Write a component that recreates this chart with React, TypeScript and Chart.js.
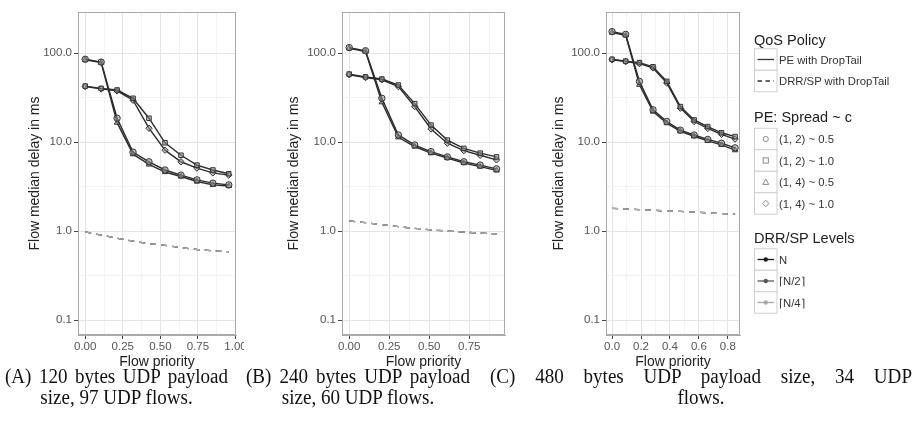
import React, { useEffect, useRef } from "react";
import { Chart, registerables } from "chart.js";
Chart.register(...registerables);

// ---------- data ----------
const xA = [0, 0.106, 0.212, 0.318, 0.424, 0.531, 0.637, 0.743, 0.849, 0.955];
const circleA = [85, 79, 18.5, 7.7, 6.0, 4.85, 4.25, 3.75, 3.45, 3.3];
const triangleA = [84, 78, 16.5, 7.3, 5.6, 4.6, 4.1, 3.6, 3.3, 3.2];
const squareA = [42.5, 40, 38.4, 31, 18.5, 9.8, 7.1, 5.5, 4.85, 4.4];
const diamondA = [42, 39.5, 37.5, 29.5, 14.3, 8.1, 6.0, 5.1, 4.5, 4.25];
const drrA = [0.98, 0.9, 0.83, 0.77, 0.72, 0.69, 0.65, 0.62, 0.6, 0.585];

const xB = [0, 0.102, 0.204, 0.307, 0.409, 0.511, 0.613, 0.716, 0.818, 0.92];
const circleB = [115, 106, 31, 12, 9.25, 7.8, 6.8, 6.0, 5.5, 5.0];
const triangleB = [113, 104, 28, 11.3, 8.9, 7.5, 6.6, 5.8, 5.3, 4.8];
const squareB = [58, 54, 51, 43.7, 27, 15.5, 10.5, 8.5, 7.5, 6.8];
const diamondB = [57, 53, 50, 42, 25, 14, 9.7, 8.0, 7.1, 6.3];
const drrB = [1.3, 1.24, 1.18, 1.12, 1.07, 1.03, 1.0, 0.97, 0.95, 0.93];

const xC = [0, 0.094, 0.189, 0.283, 0.378, 0.472, 0.567, 0.661, 0.756, 0.85];
const circleC = [174, 162, 48, 23, 17, 13.6, 12, 10.7, 9.7, 8.6];
const triangleC = [170, 158, 44, 22, 16.3, 13.2, 11.6, 10.3, 9.3, 8.1];
const squareC = [85, 81, 78, 70, 48, 25, 17.7, 14.9, 12.7, 11.5];
const diamondC = [84, 80, 76, 68, 46, 24, 17, 14.2, 12.2, 10.8];
const drrC = [1.8, 1.77, 1.74, 1.71, 1.68, 1.66, 1.63, 1.6, 1.57, 1.55];

const yMajorTicks = [0.1, 1, 10, 100];
const yMajorLabels = ["0.1", "1.0", "10.0", "100.0"];
const yMinorTicks = [0.3162, 3.162, 31.62];

const xMajorAB = [0, 0.25, 0.5, 0.75, 1.0];
const xLabelsAB = ["0.00", "0.25", "0.50", "0.75", "1.00"];
const xMinorAB = [0.125, 0.375, 0.625, 0.875];
const xMajorC = [0, 0.2, 0.4, 0.6, 0.8];
const xLabelsC = ["0.0", "0.2", "0.4", "0.6", "0.8"];
const xMinorC = [0.1, 0.3, 0.5, 0.7];

const peLabels = ["(1, 2) ~ 0.5", "(1, 2) ~ 1.0", "(1, 4) ~ 0.5", "(1, 4) ~ 1.0"];
const peShapes = ["circle", "rect", "triangle", "rectRot"];
const drrLabels = ["N", "\u2308N/2\u2309", "\u2308N/4\u2309"];
const drrColors = ["#1a1a1a", "#555555", "#aaaaaa"];
const qosLabels = ["PE with DropTail", "DRR/SP with DropTail"];

const captionLine1 = [
  "(A) 120 bytes UDP payload",
  "(B) 240 bytes UDP payload",
  "(C) 480 bytes UDP payload size, 34 UDP",
];
const captionLine2 = ["size, 97 UDP flows.", "size, 60 UDP flows.", "flows."];

// ---------- style ----------
const FONT = "'Liberation Sans', Arial, Helvetica, sans-serif";
const SERIF = "'Liberation Serif', 'Times New Roman', Times, serif";
const CANVAS_H = 372;
const PLOT_TOP = 12;
const PLOT_BOTTOM = 335;
const Y_MIN = 0.0679;
const Y_MAX = 288.9;

type PanelSpec = {
  left: number;
  width: number;
  plotLeft: number;
  plotRight: number;
  titleX: number;
  xMin: number;
  xMax: number;
  xs: number[];
  pe: number[][];
  drr: number[];
  xMajor: number[];
  xLabels: string[];
  xMinor: number[];
};

const panels: PanelSpec[] = [
  { left: 0, width: 244, plotLeft: 78, plotRight: 236, titleX: 35, xMin: -0.048, xMax: 1.003,
    xs: xA, pe: [circleA, squareA, triangleA, diamondA], drr: drrA,
    xMajor: xMajorAB, xLabels: xLabelsAB, xMinor: xMinorAB },
  { left: 248, width: 262, plotLeft: 342, plotRight: 502, titleX: 294.5, xMin: -0.045, xMax: 0.973,
    xs: xB, pe: [circleB, squareB, triangleB, diamondB], drr: drrB,
    xMajor: xMajorAB.slice(0, 4), xLabels: xLabelsAB.slice(0, 4), xMinor: xMinorAB },
  { left: 520, width: 225, plotLeft: 606, plotRight: 738, titleX: 559.5, xMin: -0.042, xMax: 0.884,
    xs: xC, pe: [circleC, squareC, triangleC, diamondC], drr: drrC,
    xMajor: xMajorC, xLabels: xLabelsC, xMinor: xMinorC },
];

const framePlugin = {
  id: "frame",
  beforeDatasetsDraw(chart: any) {
    const { ctx, chartArea: a } = chart;
    ctx.save();
    ctx.strokeStyle = "#aaaaaa";
    ctx.lineWidth = 1;
    const l = Math.round(a.left) + 0.5;
    const t = Math.round(a.top) + 0.5;
    const r = Math.round(a.right) - 0.5;
    const b = Math.round(a.bottom) - 0.5;
    ctx.strokeRect(l, t, r - l, b - t);
    ctx.restore();
  },
};

const near = (a: number, b: number) => Math.abs(a - b) < 1e-6 * Math.max(1, Math.abs(b));

function PanelChart({ spec }: { spec: PanelSpec }) {
  const ref = useRef<HTMLCanvasElement>(null);
  useEffect(() => {
    const canvas = ref.current!;
    const pts = (ys: number[]) => spec.xs.map((x, i) => ({ x, y: ys[i] }));
    const datasets: any[] = [];
    spec.pe.forEach((ys, k) => {
      datasets.push({
        label: peLabels[k],
        data: pts(ys),
        borderColor: "#2b2b2b",
        borderWidth: 1.4,
        pointStyle: peShapes[k],
        pointRadius: 3.2,
        pointBorderWidth: 1,
        pointBorderColor: "#333333",
        pointBackgroundColor: "rgba(150,150,150,0.55)",
        tension: 0,
        order: 0,
      });
    });
    [2, 1, 0].forEach((k, j) => {
      datasets.push({
        label: drrLabels[k],
        data: pts(spec.drr),
        borderColor: k === 2 ? "#b0b0b0" : drrColors[k],
        borderWidth: 1.3,
        borderDash: [6, 5],
        pointRadius: 0,
        tension: 0,
        order: 1 + j,
      });
    });

    const titleFont = { family: FONT, size: 14 };
    const tickFont = { family: FONT, size: 11.5 };
    const xTicksAll = [
      ...spec.xMajor.map((v) => ({ value: v })),
      ...spec.xMinor.map((v) => ({ value: v, minor: true })),
    ].sort((a, b) => a.value - b.value);
    const yTicksAll = [
      ...yMajorTicks.map((v) => ({ value: v })),
      ...yMinorTicks.map((v) => ({ value: v, minor: true })),
    ].sort((a, b) => a.value - b.value);

    const gridColor = (ctx: any) => (ctx.tick && ctx.tick.minor ? "#f3f3f3" : "#e4e4e4");
    const tickColor = (ctx: any) => (ctx.tick && ctx.tick.minor ? "rgba(0,0,0,0)" : "#444444");

    const chart = new Chart(canvas, {
      type: "line",
      data: { datasets },
      plugins: [framePlugin],
      options: {
        responsive: false,
        animation: false,
        events: [],
        devicePixelRatio: 1,
        layout: { padding: { top: PLOT_TOP, right: spec.width - spec.plotRight, left: 0, bottom: 0 } },
        plugins: { legend: { display: false }, tooltip: { enabled: false }, title: { display: false } },
        scales: {
          x: {
            type: "linear",
            min: spec.xMin,
            max: spec.xMax,
            afterBuildTicks: (s: any) => {
              s.ticks = xTicksAll.map((t) => ({ ...t }));
            },
            afterFit: (s: any) => {
              s.height = CANVAS_H - PLOT_BOTTOM;
              s.paddingLeft = 0;
              s.paddingRight = 0;
            },
            grid: { color: gridColor, tickColor, tickLength: 4, lineWidth: 1, drawTicks: true },
            border: { display: true, color: "#aaaaaa", width: 1 },
            ticks: {
              autoSkip: false,
              maxRotation: 0,
              minRotation: 0,
              padding: 1,
              color: "#555555",
              font: tickFont,
              callback: (value: any) => {
                const i = spec.xMajor.findIndex((m) => near(m, Number(value)));
                return i >= 0 ? spec.xLabels[i] : "";
              },
            },
            title: {
              display: true,
              text: "Flow priority",
              color: "#222222",
              font: titleFont,
              padding: { top: 0, bottom: 1.6 },
            },
          },
          y: {
            type: "logarithmic",
            min: Y_MIN,
            max: Y_MAX,
            afterBuildTicks: (s: any) => {
              s.ticks = yTicksAll.map((t) => ({ ...t }));
            },
            afterFit: (s: any) => {
              s.width = spec.plotLeft - spec.left;
              s.paddingTop = 0;
              s.paddingBottom = 0;
            },
            grid: { color: gridColor, tickColor, tickLength: 4, lineWidth: 1, drawTicks: true },
            border: { display: true, color: "#aaaaaa", width: 1 },
            ticks: {
              autoSkip: false,
              padding: 2,
              color: "#555555",
              font: tickFont,
              callback: (value: any) => {
                const i = yMajorTicks.findIndex((m) => near(m, Number(value)));
                return i >= 0 ? yMajorLabels[i] : "";
              },
            },
            title: {
              display: true,
              text: "Flow median delay in ms",
              color: "#222222",
              font: titleFont,
              padding: { top: spec.titleX - spec.left - 8.4, bottom: 0 },
            },
          },
        },
      } as any,
    } as any);
    return () => chart.destroy();
  }, [spec]);
  return (
    <canvas
      ref={ref}
      width={spec.width}
      height={CANVAS_H}
      style={{ position: "absolute", left: spec.left, top: 0, width: spec.width, height: CANVAS_H }}
    />
  );
}

// ---------- legend ----------
const LEG_X = 754;
const KEY_W = 22.5;
const KEY_H = 21.5;
const LABEL_X = 779;

function Marker({ shape, cx, cy }: { shape: string; cx: number; cy: number }) {
  const s = { fill: "none", stroke: "#8a8a8a", strokeWidth: 1 };
  if (shape === "circle") return <circle cx={cx} cy={cy} r={2.6} {...s} />;
  if (shape === "rect") return <rect x={cx - 2.6} y={cy - 2.6} width={5.2} height={5.2} {...s} />;
  if (shape === "triangle")
    return <polygon points={`${cx},${cy - 3} ${cx + 3},${cy + 2.4} ${cx - 3},${cy + 2.4}`} {...s} />;
  return <polygon points={`${cx},${cy - 3.3} ${cx + 3.3},${cy} ${cx},${cy + 3.3} ${cx - 3.3},${cy}`} {...s} />;
}

function Legend() {
  const qosY = [59.5, 81];
  const peY = [139, 160.5, 182, 203.5];
  const drrY = [259.5, 281, 302.5];
  const titleStyle = { fontFamily: FONT, fontSize: 14.5, fill: "#222222" } as any;
  const labStyle = { fontFamily: FONT, fontSize: 11.3, fill: "#333333" } as any;
  const box = (cy: number, key: string) => (
    <rect key={key} x={LEG_X + 0.5} y={cy - KEY_H / 2} width={KEY_W} height={KEY_H} fill="#ffffff" stroke="#cfcfcf" strokeWidth={1} />
  );
  const x1 = LEG_X + 3.5;
  const x2 = LEG_X + KEY_W - 2.5;
  const cx = LEG_X + 0.5 + KEY_W / 2;
  return (
    <svg width={916} height={421} style={{ position: "absolute", left: 0, top: 0, pointerEvents: "none" }}>
      <text x={LEG_X} y={40} dominantBaseline="central" style={titleStyle}>QoS Policy</text>
      {qosY.map((cy, i) => (
        <g key={"q" + i}>
          {box(cy, "qb" + i)}
          <line x1={x1} x2={x2} y1={cy} y2={cy} stroke="#333333" strokeWidth={1.3} strokeDasharray={i === 1 ? "4.5,3.5" : undefined} />
          <text x={LABEL_X} y={cy} dominantBaseline="central" style={labStyle}>{qosLabels[i]}</text>
        </g>
      ))}
      <text x={LEG_X} y={117} dominantBaseline="central" style={titleStyle}>PE: Spread ~ c</text>
      {peY.map((cy, i) => (
        <g key={"p" + i}>
          {box(cy, "pb" + i)}
          <Marker shape={peShapes[i]} cx={cx} cy={cy} />
          <text x={LABEL_X} y={cy} dominantBaseline="central" style={labStyle}>{peLabels[i]}</text>
        </g>
      ))}
      <text x={LEG_X} y={238} dominantBaseline="central" style={titleStyle}>DRR/SP Levels</text>
      {drrY.map((cy, i) => (
        <g key={"d" + i}>
          {box(cy, "db" + i)}
          <line x1={x1} x2={x2} y1={cy} y2={cy} stroke={drrColors[i]} strokeWidth={1.3} />
          <circle cx={cx} cy={cy} r={2.2} fill={drrColors[i]} />
          <text x={LABEL_X} y={cy} dominantBaseline="central" style={labStyle}>{drrLabels[i]}</text>
        </g>
      ))}
    </svg>
  );
}

// ---------- captions ----------
const capBoxes = [
  { left: 5, width: 223 },
  { left: 246, width: 224 },
  { left: 490, width: 422 },
];
const CAP_SCALE = 0.93;

function Captions() {
  return (
    <>
      {capBoxes.map((b, i) => (
        <div
          key={i}
          style={{
            position: "absolute",
            left: b.left,
            top: 366,
            width: b.width / CAP_SCALE,
            transform: `scaleX(${CAP_SCALE})`,
            transformOrigin: "left top",
            fontFamily: SERIF,
            fontSize: 20.5,
            lineHeight: "21px",
            color: "#111111",
          }}
        >
          <div style={{ textAlign: "justify", textAlignLast: "justify", whiteSpace: "nowrap" } as any}>{captionLine1[i]}</div>
          <div style={{ textAlign: "center", whiteSpace: "nowrap" }}>{captionLine2[i]}</div>
        </div>
      ))}
    </>
  );
}

export default function App() {
  return (
    <div style={{ position: "fixed", left: 0, top: 0, width: 916, height: 421, background: "#ffffff", overflow: "hidden" }}>
      {panels.map((p, i) => (
        <PanelChart key={i} spec={p} />
      ))}
      <Legend />
      <Captions />
    </div>
  );
}
